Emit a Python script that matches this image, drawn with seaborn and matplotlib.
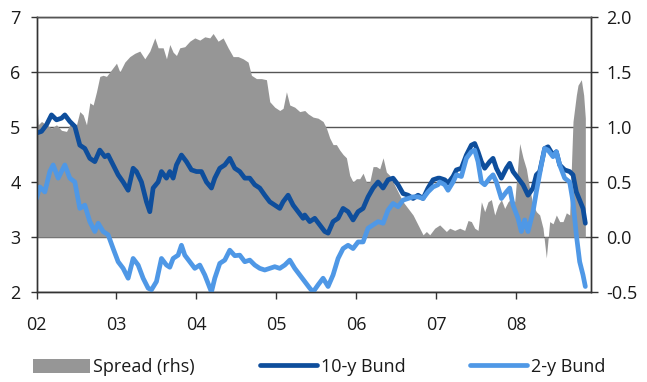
import matplotlib
matplotlib.use("Agg")
import matplotlib.pyplot as plt
import seaborn as sns
import pandas as pd
from matplotlib.patches import Patch
from matplotlib.lines import Line2D

# Time axis: months elapsed since the start of January 2002
bund10_months = [
    0, 0.75, 1.5, 2.25, 3, 3.75, 4.25, 5, 5.75, 6.5, 7.25, 8, 8.75, 9.5, 10.25, 10.75,
    11.5, 12.25, 13, 13.75, 14.5, 15, 15.75, 16.5, 17, 17.5, 18.25, 18.75, 19.5,
    20, 20.5, 21, 21.75, 22.5, 23.25, 24, 24.75, 25.5, 26.25, 26.75, 27.5, 28.25, 29,
    29.75, 30.5, 31.25, 32, 32.75, 33.5, 34.25, 35, 35.75, 36.5, 37, 37.75, 38.5, 39.25, 40,
    40.25, 41, 41.75, 42.5, 43.25, 43.75, 44.5, 45.25, 46, 46.75, 47.5, 48.25, 49, 49.75,
    50.5, 51.25, 52, 52.75, 53.5, 54.25, 55, 55.75, 56.5, 57.25, 58, 58.75, 59.5, 60.25,
    60.5, 61.25, 61.75, 62.5, 63, 63.75, 64.5, 65.25, 65.75, 66.25, 66.75, 67.25, 68, 68.5,
    69, 69.75, 70.5, 71, 71.5, 72.25, 73, 73.75, 74.5, 75, 75.5, 76.25, 76.75, 77.5, 78,
    78.5, 79.25, 80, 80.5, 81, 81.5, 82, 82.35,
]
bund10_yield = [
    4.89, 4.92, 5.04, 5.22, 5.13, 5.16, 5.22, 5.10, 5.01, 4.67, 4.61, 4.43, 4.37, 4.58, 4.46, 4.49,
    4.31, 4.13, 4.00, 3.85, 4.25, 4.19, 4.00, 3.64, 3.46, 3.89, 4.00, 4.19, 4.07,
    4.19, 4.07, 4.31, 4.49, 4.37, 4.22, 4.19, 4.19, 4.00, 3.89, 4.07, 4.25, 4.31, 4.43,
    4.25, 4.19, 4.07, 4.07, 3.95, 3.89, 3.76, 3.64, 3.58, 3.52, 3.64, 3.76, 3.58, 3.46, 3.34,
    3.40, 3.28, 3.34, 3.22, 3.10, 3.07, 3.28, 3.34, 3.52, 3.46, 3.31, 3.46, 3.52, 3.73,
    3.89, 4.00, 3.89, 4.04, 4.07, 3.95, 3.79, 3.76, 3.70, 3.76, 3.70, 3.89, 4.04, 4.07,
    4.07, 4.04, 3.98, 4.10, 4.22, 4.25, 4.49, 4.67, 4.70, 4.55, 4.37, 4.25, 4.37, 4.43,
    4.25, 4.07, 4.25, 4.34, 4.19, 4.07, 3.95, 3.76, 3.89, 4.13, 4.19, 4.61, 4.64, 4.49, 4.55,
    4.31, 4.22, 4.19, 4.13, 3.82, 3.67, 3.52, 3.25,
]

bund2_months = [
    0, 0.5, 1.25, 2, 2.5, 3.25, 4.25, 5, 5.75, 6.5, 7.25, 8, 8.75, 9.25, 10, 10.75,
    11.5, 12.25, 13, 13.75, 14.5, 15.25, 16, 16.75, 17.25, 18, 18.75, 19.5,
    20, 20.5, 21.25, 21.75, 22.25, 23, 23.75, 24.5, 25.25, 26.25, 26.75, 27.5, 28.25, 29,
    29.75, 30.5, 31.25, 32, 32.75, 33.5, 34.25, 35, 35.75, 36.5, 37.25, 38, 38.75, 39.5,
    40.25, 41, 41.5, 42.25, 43, 43.75, 44.5, 45.25, 46, 46.75, 47.5, 48.25, 49, 49.75,
    50.5, 51.25, 52, 52.75, 53.5, 54.25, 55, 55.75, 56.5, 57.25, 58, 58.75, 59.5, 60.25,
    60.5, 61.25, 61.75, 62.5, 63, 63.75, 64.5, 65.25, 65.75, 66.25, 66.75, 67.25, 68, 68.5,
    69, 69.75, 70.5, 71, 71.5, 72.25, 72.75, 73.25, 73.75, 74.5, 75, 75.75, 76.25, 76.75,
    77.5, 78, 78.5, 79.25, 80, 80.5, 81, 81.5, 82, 82.35,
]
bund2_yield = [
    3.70, 3.91, 3.82, 4.19, 4.31, 4.07, 4.31, 4.07, 4.00, 3.52, 3.58, 3.28, 3.10, 3.25, 3.10, 3.04,
    2.79, 2.55, 2.43, 2.25, 2.61, 2.49, 2.25, 2.07, 2.04, 2.19, 2.61, 2.49,
    2.45, 2.61, 2.67, 2.85, 2.67, 2.55, 2.43, 2.49, 2.31, 2.00, 2.25, 2.52, 2.58, 2.76,
    2.66, 2.67, 2.55, 2.58, 2.49, 2.43, 2.40, 2.43, 2.46, 2.43, 2.49, 2.58, 2.43, 2.31,
    2.19, 2.07, 2.00, 2.13, 2.25, 2.10, 2.31, 2.61, 2.79, 2.85, 2.79, 2.91, 2.91, 3.16,
    3.22, 3.28, 3.25, 3.49, 3.61, 3.55, 3.67, 3.70, 3.73, 3.73, 3.70, 3.82, 3.91, 3.95,
    4.00, 3.95, 3.85, 4.00, 4.13, 4.10, 4.43, 4.55, 4.58, 4.37, 4.00, 3.95, 4.07, 4.13,
    4.00, 3.70, 3.82, 3.89, 3.58, 3.34, 3.10, 3.31, 3.10, 3.46, 3.82, 4.31, 4.61, 4.58,
    4.46, 4.55, 4.31, 4.07, 4.00, 3.64, 3.04, 2.55, 2.31, 2.10,
]

spread_months = [
    0, 0.25, 0.75, 1.5, 2.25, 3, 3.75, 4.5, 5.25, 6, 6.5, 7, 7.5, 8, 8.5, 9, 9.5, 10, 10.5,
    11, 12, 12.5, 13.25, 14, 14.75, 15.5, 16.25, 17, 17.75, 18.25, 19, 19.5,
    20, 20.5, 21, 21.5, 22.25, 23, 23.75, 24.5, 25.25, 26, 26.5, 27.25, 28, 28.75, 29.5,
    30.25, 31, 31.75, 32.25, 33, 33.75, 34.5, 35, 35.75, 36.5, 37, 37.5, 38, 38.75, 39.5,
    40.25, 40.75, 41.5, 42.25, 43, 43.5, 44, 44.5, 45, 45.5, 46, 46.5, 47, 47.5, 48, 48.5,
    49, 49.5, 50, 50.5, 51, 51.5, 52, 52.5, 53, 53.5, 54.25, 55, 55.75, 56.5, 57.25, 58,
    58.5, 59, 59.75,
    60.5, 61, 61.5, 62, 62.75, 63.5, 64.25, 64.75, 65.25, 65.75, 66.25, 66.75, 67.25, 67.75,
    68.25, 68.75, 69.25, 69.75, 70.25, 70.75, 71.25, 71.75, 72.5, 73, 73.5, 74, 74.5, 75,
    75.5, 76, 76.5, 77, 77.5, 78, 78.5, 79, 79.5, 80, 80.5, 81, 81.25, 81.75, 82.1, 82.35,
]
spread_pp = [
    1.28, 1.02, 1.05, 1.02, 0.99, 1.02, 0.97, 0.96, 1.05, 1.02, 1.14, 1.11, 1.02, 1.22, 1.20,
    1.32, 1.46, 1.47, 1.46, 1.50, 1.58, 1.50, 1.59, 1.64, 1.67, 1.69, 1.62, 1.69, 1.81, 1.72,
    1.72, 1.62,
    1.75, 1.68, 1.65, 1.72, 1.73, 1.78, 1.81, 1.79, 1.82, 1.81, 1.85, 1.78, 1.81, 1.72, 1.64,
    1.64, 1.62, 1.59, 1.47, 1.44, 1.44, 1.43, 1.23, 1.18, 1.15, 1.17, 1.32, 1.20, 1.18, 1.14,
    1.15, 1.12, 1.09, 1.08, 1.05, 0.99, 0.90, 0.84, 0.84, 0.79, 0.75, 0.72, 0.56, 0.50, 0.53,
    0.53, 0.58, 0.50, 0.50, 0.64, 0.64, 0.62, 0.72, 0.59, 0.56, 0.50, 0.41, 0.32, 0.26, 0.20,
    0.11, 0.02, 0.05, 0.02, 0.08,
    0.11, 0.08, 0.05, 0.08, 0.06, 0.08, 0.06, 0.15, 0.14, 0.08, 0.06, 0.32, 0.23, 0.32,
    0.34, 0.20, 0.29, 0.34, 0.26, 0.32, 0.35, 0.32, 0.85, 0.72, 0.62, 0.44, 0.29, 0.23,
    0.20, 0.08, -0.19, 0.14, 0.12, 0.20, 0.14, 0.14, 0.22, 0.20, 1.05, 1.29, 1.38, 1.43,
    1.29, 1.08,
]

year_ticks = [2002, 2003, 2004, 2005, 2006, 2007, 2008]
year_labels = ["02", "03", "04", "05", "06", "07", "08"]
left_ticks = [2, 3, 4, 5, 6, 7]
right_ticks = [-0.5, 0.0, 0.5, 1.0, 1.5, 2.0]
series_names = ["Spread (rhs)", "10-y Bund", "2-y Bund"]

GRAY = "#969696"
DARK_BLUE = "#0e4e9c"
LIGHT_BLUE = "#4f98e6"
AXIS_COLOR = "#333333"
GRID_COLOR = "#555555"
TEXT_COLOR = "#1a1a1a"
LINE_W = 3.4
FONT_SIZE = 13

sns.set_theme(style="white")
plt.rcParams["font.family"] = ["Open Sans", "DejaVu Sans"]
plt.rcParams["font.size"] = FONT_SIZE


def to_year(months):
    return [2002 + m / 12 for m in months]


bund10 = pd.DataFrame({"year": to_year(bund10_months), "yield": bund10_yield})
bund2 = pd.DataFrame({"year": to_year(bund2_months), "yield": bund2_yield})
spread = pd.DataFrame({"year": to_year(spread_months), "spread": spread_pp})

fig = plt.figure(figsize=(6.47, 3.82), dpi=100)
ax = fig.add_axes([36.5 / 647, 1 - 292 / 382, 554.5 / 647, 275 / 382])
ax2 = ax.twinx()

# spread on the right-hand axis, kept behind the yield lines
ax.set_zorder(ax2.get_zorder() + 1)
ax.patch.set_visible(False)
ax2.fill_between(spread["year"], 0, spread["spread"], color=GRAY, linewidth=0, zorder=2)
ax2.set_axisbelow(True)
ax2.grid(axis="y", color=GRID_COLOR, linewidth=1.0, zorder=0)
ax2.set_ylim(-0.5, 2.0)
ax2.set_yticks(right_ticks)
ax2.set_yticklabels([f"{t:.1f}" for t in right_ticks])

sns.lineplot(data=bund10, x="year", y="yield", ax=ax, color=DARK_BLUE, linewidth=LINE_W,
             solid_capstyle="round", solid_joinstyle="round")
sns.lineplot(data=bund2, x="year", y="yield", ax=ax, color=LIGHT_BLUE, linewidth=LINE_W,
             solid_capstyle="round", solid_joinstyle="round")

ax.set_xlim(2002, 2002 + 83.2 / 12)
ax.set_ylim(2, 7)
ax.set_yticks(left_ticks)
ax.set_yticklabels([str(t) for t in left_ticks])
ax.set_xticks(year_ticks)
ax.set_xticklabels(year_labels)
ax.set_xlabel("")
ax.set_ylabel("")
ax2.set_ylabel("")

for a in (ax, ax2):
    for side in ("left", "right", "bottom"):
        a.spines[side].set_color(AXIS_COLOR)
        a.spines[side].set_linewidth(1.0)
    a.spines["top"].set_color(GRID_COLOR)
    a.spines["top"].set_linewidth(1.0)

ax.tick_params(axis="y", which="major", left=True, length=4.5, width=1, color=AXIS_COLOR,
               pad=7, labelsize=FONT_SIZE, labelcolor=TEXT_COLOR)
ax.tick_params(axis="x", which="major", bottom=True, length=5, width=1, color=AXIS_COLOR,
               pad=12, labelsize=FONT_SIZE, labelcolor=TEXT_COLOR)
ax2.tick_params(axis="y", which="major", right=True, length=5, width=1, color=AXIS_COLOR,
                pad=6, labelsize=FONT_SIZE, labelcolor=TEXT_COLOR)

handles = [
    Patch(facecolor=GRAY, edgecolor="none"),
    Line2D([0], [0], color=DARK_BLUE, linewidth=LINE_W, solid_capstyle="round"),
    Line2D([0], [0], color=LIGHT_BLUE, linewidth=LINE_W, solid_capstyle="round"),
]
fig.legend(handles, series_names, loc="center", bbox_to_anchor=(0.493, 1 - 367 / 382),
           ncol=3, frameon=False, fontsize=FONT_SIZE, handlelength=3.15, handleheight=0.8,
           handletextpad=0.2, columnspacing=3.6, labelcolor=TEXT_COLOR,
           borderpad=0, borderaxespad=0)

fig.savefig("out.png", dpi=100)
